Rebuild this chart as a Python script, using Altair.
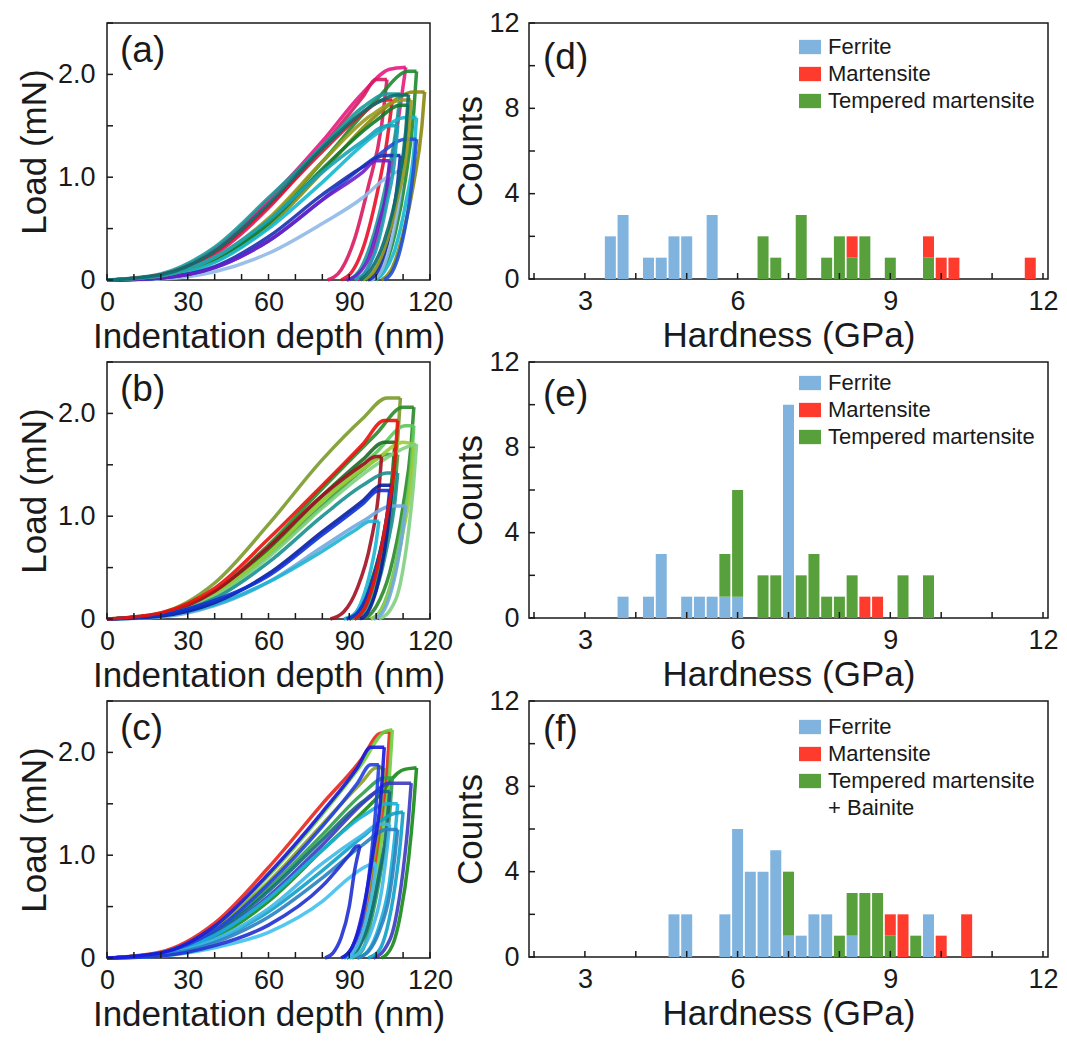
import altair as alt
import pandas as pd

FONT = "Liberation Sans"

# ---------------- load-depth curves ----------------
A_COLOR = ["#e6197f", "#d81b60", "#1b8a2f", "#8a8a10", "#1a9a9a", "#e8102a", "#0e7a2a",
           "#14b8d0", "#8fb8e8", "#1f4fd8", "#1a2fb0", "#6a1fc8", "#9a9a20", "#17a2b8", "#0b6d6d"]
A_DEPTH = [
    [0, 20, 40, 60, 80, 95, 105, 111, 109, 105, 101, 97, 93],
    [0, 20, 40, 60, 80, 95, 100, 104, 102, 97, 92, 87, 82],
    [0, 20, 40, 60, 80, 100, 112, 115, 114, 111, 107, 103, 100],
    [0, 20, 40, 60, 80, 100, 114, 118, 117, 114, 110, 106, 102],
    [0, 20, 40, 60, 80, 95, 104, 109, 107, 103, 98, 94, 90],
    [0, 20, 40, 60, 80, 95, 103, 106, 104, 100, 95, 91, 87],
    [0, 20, 40, 60, 80, 100, 109, 112, 111, 108, 104, 100, 96],
    [0, 20, 40, 60, 80, 100, 111, 115, 114, 111, 107, 103, 100],
    [0, 20, 40, 60, 80, 95, 104, 110, 109, 107, 104, 101, 98],
    [0, 20, 40, 60, 80, 100, 111, 115, 114, 112, 109, 106, 103],
    [0, 20, 40, 60, 80, 95, 103, 109, 108, 106, 103, 100, 97],
    [0, 20, 40, 60, 80, 95, 100, 105, 104, 101, 97, 93, 89],
    [0, 20, 40, 60, 80, 98, 110, 113, 112, 108, 103, 99, 95],
    [0, 20, 40, 60, 80, 95, 104, 108, 107, 104, 100, 96, 92],
    [0, 20, 40, 60, 80, 100, 108, 112, 111, 108, 103, 98, 94],
]
A_LOAD = [
    [0, 0.05, 0.30, 0.78, 1.35, 1.82, 2.05, 2.07, 1.70, 1.00, 0.45, 0.12, 0],
    [0, 0.04, 0.25, 0.70, 1.30, 1.78, 1.95, 1.95, 1.50, 0.90, 0.40, 0.10, 0],
    [0, 0.03, 0.20, 0.58, 1.15, 1.75, 2.03, 2.03, 1.65, 1.00, 0.45, 0.12, 0],
    [0, 0.03, 0.18, 0.52, 1.05, 1.60, 1.83, 1.83, 1.50, 0.95, 0.45, 0.12, 0],
    [0, 0.06, 0.32, 0.80, 1.30, 1.68, 1.81, 1.81, 1.40, 0.85, 0.35, 0.10, 0],
    [0, 0.05, 0.27, 0.72, 1.25, 1.62, 1.75, 1.75, 1.35, 0.80, 0.30, 0.08, 0],
    [0, 0.03, 0.20, 0.55, 1.08, 1.55, 1.70, 1.70, 1.35, 0.80, 0.35, 0.10, 0],
    [0, 0.03, 0.17, 0.50, 0.95, 1.42, 1.58, 1.58, 1.25, 0.75, 0.30, 0.08, 0],
    [0, 0.01, 0.08, 0.26, 0.55, 0.80, 1.00, 1.08, 0.85, 0.55, 0.22, 0.05, 0],
    [0, 0.02, 0.12, 0.38, 0.78, 1.20, 1.37, 1.37, 1.10, 0.70, 0.30, 0.08, 0],
    [0, 0.02, 0.13, 0.42, 0.83, 1.10, 1.21, 1.21, 0.95, 0.60, 0.25, 0.06, 0],
    [0, 0.02, 0.12, 0.38, 0.78, 1.05, 1.16, 1.16, 0.90, 0.55, 0.20, 0.05, 0],
    [0, 0.04, 0.22, 0.60, 1.15, 1.60, 1.75, 1.75, 1.40, 0.80, 0.30, 0.08, 0],
    [0, 0.04, 0.22, 0.58, 1.05, 1.35, 1.50, 1.50, 1.20, 0.75, 0.30, 0.08, 0],
    [0, 0.05, 0.28, 0.74, 1.28, 1.72, 1.80, 1.80, 1.45, 0.90, 0.38, 0.10, 0],
]

B_COLOR = ["#7a9a2a", "#2a8a2a", "#5cc85c", "#1d6b22", "#3f9f3f", "#9acd32", "#7fd07f",
           "#a01020", "#178f8f", "#6fa8e0", "#1eb4d2", "#0a1f9a", "#1030d0", "#e8120c"]
B_DEPTH = [
    [0, 20, 40, 60, 80, 95, 104, 109, 108, 105, 100, 95, 90],
    [0, 20, 40, 60, 80, 100, 110, 114, 113, 110, 105, 100, 96],
    [0, 20, 40, 60, 80, 100, 111, 114, 113, 110, 106, 102, 98],
    [0, 20, 40, 60, 80, 95, 103, 107, 106, 103, 98, 94, 90],
    [0, 20, 40, 60, 80, 95, 104, 108, 107, 104, 99, 95, 91],
    [0, 20, 40, 60, 80, 100, 110, 114, 113, 110, 106, 102, 98],
    [0, 20, 40, 60, 80, 100, 112, 115, 114, 112, 109, 105, 101],
    [0, 20, 40, 60, 80, 95, 100, 102, 101, 98, 93, 88, 83],
    [0, 20, 40, 60, 80, 95, 104, 108, 107, 104, 100, 96, 92],
    [0, 20, 40, 60, 80, 95, 106, 111, 110, 108, 105, 102, 99],
    [0, 20, 40, 60, 80, 92, 98, 101, 100, 98, 95, 92, 88],
    [0, 20, 40, 60, 80, 95, 102, 106, 105, 103, 100, 97, 94],
    [0, 20, 40, 60, 80, 95, 101, 105, 104, 101, 97, 93, 89],
    [0, 20, 40, 60, 80, 95, 103, 108, 107, 104, 100, 96, 92],
]
B_LOAD = [
    [0, 0.06, 0.35, 0.92, 1.55, 1.95, 2.15, 2.15, 1.75, 1.10, 0.45, 0.10, 0],
    [0, 0.05, 0.27, 0.72, 1.27, 1.80, 2.06, 2.06, 1.70, 1.10, 0.45, 0.12, 0],
    [0, 0.04, 0.24, 0.65, 1.15, 1.62, 1.88, 1.88, 1.50, 0.95, 0.40, 0.10, 0],
    [0, 0.05, 0.26, 0.68, 1.20, 1.55, 1.72, 1.72, 1.40, 0.85, 0.35, 0.08, 0],
    [0, 0.04, 0.23, 0.62, 1.10, 1.45, 1.60, 1.60, 1.30, 0.80, 0.30, 0.08, 0],
    [0, 0.04, 0.24, 0.64, 1.15, 1.55, 1.72, 1.70, 1.35, 0.85, 0.35, 0.08, 0],
    [0, 0.04, 0.22, 0.60, 1.08, 1.50, 1.68, 1.70, 1.35, 0.85, 0.35, 0.08, 0],
    [0, 0.05, 0.27, 0.70, 1.20, 1.50, 1.58, 1.58, 1.25, 0.75, 0.30, 0.07, 0],
    [0, 0.04, 0.20, 0.55, 1.00, 1.30, 1.42, 1.42, 1.15, 0.70, 0.28, 0.07, 0],
    [0, 0.02, 0.13, 0.36, 0.70, 0.95, 1.10, 1.10, 0.88, 0.55, 0.22, 0.05, 0],
    [0, 0.03, 0.14, 0.36, 0.66, 0.86, 0.95, 0.95, 0.75, 0.48, 0.20, 0.05, 0],
    [0, 0.03, 0.16, 0.44, 0.85, 1.15, 1.30, 1.30, 1.05, 0.65, 0.28, 0.07, 0],
    [0, 0.04, 0.18, 0.42, 0.82, 1.12, 1.25, 1.25, 1.00, 0.60, 0.25, 0.06, 0],
    [0, 0.06, 0.30, 0.78, 1.30, 1.70, 1.93, 1.93, 1.55, 1.00, 0.45, 0.12, 0],
]

C_COLOR = ["#e8261c", "#6ccf3c", "#178a17", "#8aa020", "#2e9e4e", "#126a7a", "#3a3ac0",
           "#19b0d8", "#10a0c8", "#3fb8e8", "#2a7fc0", "#40c0f0", "#2030d0", "#2040e0", "#1a1adc"]
C_DEPTH = [
    [0, 20, 40, 60, 80, 95, 101, 105, 104, 101, 97, 93, 89],
    [0, 20, 40, 60, 80, 95, 103, 106, 105, 102, 98, 94, 90],
    [0, 20, 40, 60, 80, 100, 110, 115, 114, 112, 109, 106, 102],
    [0, 20, 40, 60, 80, 95, 100, 103, 102, 99, 95, 91, 87],
    [0, 20, 40, 60, 80, 95, 103, 106, 105, 102, 98, 95, 91],
    [0, 20, 40, 60, 80, 95, 101, 105, 104, 101, 97, 93, 89],
    [0, 20, 40, 60, 80, 97, 105, 113, 112, 110, 107, 103, 99],
    [0, 20, 40, 60, 80, 95, 104, 108, 107, 105, 101, 97, 93],
    [0, 20, 40, 60, 80, 95, 106, 110, 109, 107, 104, 101, 97],
    [0, 20, 40, 60, 80, 95, 101, 105, 104, 102, 98, 94, 90],
    [0, 20, 40, 60, 80, 95, 104, 108, 107, 105, 101, 97, 93],
    [0, 20, 40, 60, 80, 90, 97, 100, 99, 97, 94, 91, 88],
    [0, 20, 40, 60, 80, 90, 93, 94, 92, 90, 87, 84, 81],
    [0, 20, 40, 60, 80, 93, 98, 101, 100, 98, 95, 91, 88],
    [0, 20, 40, 60, 80, 93, 98, 103, 102, 99, 95, 91, 87],
]
C_LOAD = [
    [0, 0.06, 0.34, 0.88, 1.50, 1.95, 2.18, 2.20, 1.80, 1.15, 0.50, 0.12, 0],
    [0, 0.05, 0.30, 0.80, 1.40, 1.90, 2.20, 2.22, 1.80, 1.15, 0.50, 0.12, 0],
    [0, 0.04, 0.20, 0.55, 1.05, 1.55, 1.83, 1.85, 1.50, 0.95, 0.42, 0.12, 0],
    [0, 0.05, 0.28, 0.74, 1.30, 1.72, 1.85, 1.85, 1.50, 0.95, 0.40, 0.10, 0],
    [0, 0.04, 0.25, 0.68, 1.20, 1.60, 1.75, 1.75, 1.40, 0.88, 0.35, 0.08, 0],
    [0, 0.04, 0.24, 0.65, 1.15, 1.52, 1.62, 1.62, 1.30, 0.80, 0.32, 0.08, 0],
    [0, 0.04, 0.22, 0.60, 1.10, 1.55, 1.70, 1.70, 1.35, 0.85, 0.35, 0.08, 0],
    [0, 0.04, 0.22, 0.58, 1.05, 1.38, 1.50, 1.50, 1.20, 0.75, 0.30, 0.07, 0],
    [0, 0.03, 0.17, 0.45, 0.85, 1.18, 1.40, 1.42, 1.12, 0.70, 0.28, 0.07, 0],
    [0, 0.03, 0.18, 0.48, 0.92, 1.20, 1.30, 1.30, 1.05, 0.65, 0.25, 0.06, 0],
    [0, 0.03, 0.15, 0.40, 0.78, 1.10, 1.25, 1.25, 1.00, 0.62, 0.25, 0.06, 0],
    [0, 0.02, 0.10, 0.25, 0.55, 0.78, 0.90, 0.92, 0.72, 0.45, 0.18, 0.04, 0],
    [0, 0.02, 0.12, 0.32, 0.70, 1.00, 1.09, 1.09, 0.85, 0.50, 0.20, 0.05, 0],
    [0, 0.05, 0.27, 0.72, 1.28, 1.70, 1.88, 1.88, 1.50, 0.95, 0.40, 0.10, 0],
    [0, 0.05, 0.31, 0.82, 1.42, 1.85, 2.05, 2.05, 1.65, 1.05, 0.45, 0.10, 0],
]

# ---------------- hardness histograms (bin centres, GPa; counts) ----------------
PHASES = ["Ferrite", "Martensite", "Tempered martensite"]
PHASE_COLORS = ["#80b4de", "#ff3b2e", "#58a03c"]
STACK_ORDER = {"Ferrite": 0, "Tempered martensite": 1, "Martensite": 2}

D_FER_X = [3.5, 3.75, 4.25, 4.5, 4.75, 5.0, 5.5]
D_FER_N = [2, 3, 1, 1, 2, 2, 3]
D_TM_X = [6.5, 6.75, 7.25, 7.75, 8.0, 8.25, 8.5, 9.0, 9.75]
D_TM_N = [2, 1, 3, 1, 2, 1, 2, 1, 1]
D_MAR_X = [8.25, 9.75, 10.0, 10.25, 11.75]
D_MAR_N = [1, 1, 1, 1, 1]

E_FER_X = [3.75, 4.25, 4.5, 5.0, 5.25, 5.5, 5.75, 6.0, 7.0]
E_FER_N = [1, 1, 3, 1, 1, 1, 1, 1, 10]
E_TM_X = [5.75, 6.0, 6.5, 6.75, 7.25, 7.5, 7.75, 8.0, 8.25, 9.25, 9.75]
E_TM_N = [2, 5, 2, 2, 2, 3, 1, 1, 2, 2, 2]
E_MAR_X = [8.5, 8.75]
E_MAR_N = [1, 1]

F_FER_X = [4.75, 5.0, 5.75, 6.0, 6.25, 6.5, 6.75, 7.0, 7.25, 7.5, 7.75, 8.25, 9.75]
F_FER_N = [2, 2, 2, 6, 4, 4, 5, 1, 1, 2, 2, 1, 2]
F_TM_X = [7.0, 8.0, 8.25, 8.5, 8.75, 9.0, 9.5]
F_TM_N = [3, 1, 2, 3, 3, 1, 1]
F_MAR_X = [9.0, 9.25, 10.0, 10.5]
F_MAR_N = [1, 2, 1, 2]

# axis ticks
DEPTH_TICKS = [0, 10, 20, 30, 40, 50, 60, 70, 80, 90, 100, 110, 120]
DEPTH_LABELS = [0, 30, 60, 90, 120]
LOAD_TICKS = [0, 0.5, 1.0, 1.5, 2.0, 2.5]
LOAD_LABELS = [0, 1.0, 2.0]
HARD_TICKS = [2, 3, 4, 5, 6, 7, 8, 9, 10, 11, 12]
HARD_LABELS = [3, 6, 9, 12]
COUNT_TICKS = [0, 2, 4, 6, 8, 10, 12]
COUNT_LABELS = [0, 4, 8, 12]

LW, LH = 323, 257
RW, RH = 519, 256
TICK = 6
INK = "#1a1a1a"


def curves_df(depths, loads):
    rows = []
    for k, (ds, ls) in enumerate(zip(depths, loads)):
        top = ds.index(max(ds))
        for i, (d, l) in enumerate(zip(ds, ls)):
            segs = []
            if i <= top:
                segs.append("load")
            if i >= top:
                segs.append("unload")
            for s in segs:
                rows.append({"cid": f"c{k:02d}", "seg": f"c{k:02d}{s}", "depth": d, "load": l})
    return pd.DataFrame(rows), [f"c{k:02d}" for k in range(len(depths))]


def inward_ticks(xfield, xvals, yfield, yvals, w, h):
    xt = alt.Chart(pd.DataFrame({xfield: xvals})).mark_rule(color=INK, strokeWidth=1.5).encode(
        x=f"{xfield}:Q", y=alt.value(h), y2=alt.value(h - TICK))
    yt = alt.Chart(pd.DataFrame({yfield: yvals})).mark_rule(color=INK, strokeWidth=1.5).encode(
        y=f"{yfield}:Q", x=alt.value(0), x2=alt.value(TICK))
    return xt, yt


def panel_label(text, x, y):
    return alt.Chart(pd.DataFrame({"t": [text]})).mark_text(
        align="left", baseline="middle", fontSize=37, font=FONT, color=INK
    ).encode(text="t:N", x=alt.value(x), y=alt.value(y))


def load_panel(colors, depths, loads, label):
    df, ids = curves_df(depths, loads)
    lines = alt.Chart(df).mark_line(strokeWidth=3.5, interpolate="monotone", opacity=0.9).encode(
        x=alt.X("depth:Q", scale=alt.Scale(domain=[0, 120], nice=False),
                axis=alt.Axis(values=DEPTH_LABELS, title="Indentation depth (nm)", grid=False,
                              ticks=False, domain=False, labelPadding=9, titlePadding=4)),
        y=alt.Y("load:Q", scale=alt.Scale(domain=[0, 2.5], nice=False),
                axis=alt.Axis(values=LOAD_LABELS, title="Load (mN)", grid=False, ticks=False,
                              domain=False, labelPadding=12, titlePadding=5,
                              labelExpr="datum.value == 0 ? '0' : format(datum.value, '.1f')")),
        color=alt.Color("cid:N", scale=alt.Scale(domain=ids, range=colors), legend=None),
        detail="seg:N",
        order="depth:Q",
    )
    xt, yt = inward_ticks("depth", DEPTH_TICKS, "load", LOAD_TICKS, LW, LH)
    return alt.layer(lines, xt, yt, panel_label(label, 13, 28)).properties(width=LW, height=LH)


def hist_df(fx, fn, tx, tn, mx, mn):
    rows = []
    for name, xs, ns in (("Ferrite", fx, fn), ("Tempered martensite", tx, tn), ("Martensite", mx, mn)):
        for x, n in zip(xs, ns):
            rows.append({"phase": name, "h": x, "n": n, "ord": STACK_ORDER[name]})
    return pd.DataFrame(rows)


def hist_panel(df, label, label_y, legend_y, extra=None):
    bars = alt.Chart(df).mark_bar(size=11).encode(
        x=alt.X("h:Q", scale=alt.Scale(domain=[2, 12], nice=False, zero=False),
                axis=alt.Axis(values=HARD_LABELS, title="Hardness (GPa)", grid=False, ticks=False,
                              domain=False, labelPadding=9, titlePadding=4)),
        y=alt.Y("n:Q", stack="zero", scale=alt.Scale(domain=[0, 12], nice=False),
                axis=alt.Axis(values=COUNT_LABELS, title="Counts", grid=False, ticks=False,
                              domain=False, labelPadding=10, titlePadding=0)),
        color=alt.Color("phase:N", scale=alt.Scale(domain=PHASES, range=PHASE_COLORS),
                        legend=alt.Legend(orient="none", legendX=270, legendY=legend_y, title=None,
                                          symbolType="M-1,-0.65H1V0.65H-1Z", symbolSize=484,
                                          symbolStrokeWidth=0, labelFontSize=22, labelFont=FONT,
                                          labelColor=INK, labelLimit=400, rowPadding=5,
                                          labelOffset=7, padding=0)),
        order=alt.Order("ord:Q", sort="ascending"),
    )
    xt, yt = inward_ticks("h", HARD_TICKS, "n", COUNT_TICKS, RW, RH)
    layers = [bars, xt, yt, panel_label(label, 14, label_y)]
    if extra is not None:
        layers.append(alt.Chart(pd.DataFrame({"t": [extra]})).mark_text(
            align="left", baseline="middle", fontSize=22, font=FONT, color=INK
        ).encode(text="t:N", x=alt.value(299), y=alt.value(107)))
    return alt.layer(*layers).properties(width=RW, height=RH)


pa = load_panel(A_COLOR, A_DEPTH, A_LOAD, "(a)")
pb = load_panel(B_COLOR, B_DEPTH, B_LOAD, "(b)")
pc = load_panel(C_COLOR, C_DEPTH, C_LOAD, "(c)")
pd_ = hist_panel(hist_df(D_FER_X, D_FER_N, D_TM_X, D_TM_N, D_MAR_X, D_MAR_N), "(d)", 35, 13)
pe = hist_panel(hist_df(E_FER_X, E_FER_N, E_TM_X, E_TM_N, E_MAR_X, E_MAR_N), "(e)", 33, 10)
pf = hist_panel(hist_df(F_FER_X, F_FER_N, F_TM_X, F_TM_N, F_MAR_X, F_MAR_N), "(f)", 29, 15,
                extra="+ Bainite")

chart = alt.concat(pa, pd_, pb, pe, pc, pf, columns=2,
                   spacing={"row": 82, "column": 99}, bounds="flush").resolve_scale(
    color="independent", x="independent", y="independent"
).configure_view(stroke=INK, strokeWidth=1.5).configure_axis(
    labelFont=FONT, titleFont=FONT, labelFontSize=27, titleFontSize=35, labelColor=INK,
    titleColor=INK, titleFontWeight="normal", labelFlush=False
).properties(background="white", padding={"left": 8, "top": 0, "right": 0, "bottom": 0})

chart.save("out.html", embed_options={"renderer": "svg", "actions": False})
